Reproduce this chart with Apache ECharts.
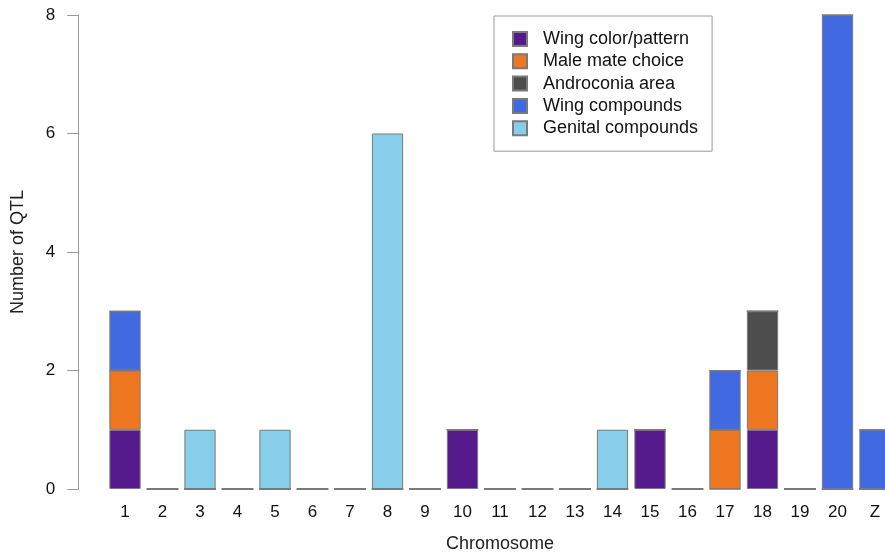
<!DOCTYPE html>
<html>
<head>
<meta charset="utf-8">
<script src="https://cdn.jsdelivr.net/npm/echarts@6/dist/echarts.min.js"></script>
<style>html,body{margin:0;padding:0;background:#fff;}#c{width:885px;height:554px;}</style>
</head>
<body>
<div id="c"></div>
<script>
const categories = ['1','2','3','4','5','6','7','8','9','10','11','12','13','14','15','16','17','18','19','20','Z'];
const wingColorPattern = [1,0,0,0,0,0,0,0,0,1,0,0,0,0,1,0,0,1,0,0,0];
const maleMateChoice   = [1,0,0,0,0,0,0,0,0,0,0,0,0,0,0,0,1,1,0,0,0];
const androconiaArea   = [0,0,0,0,0,0,0,0,0,0,0,0,0,0,0,0,0,1,0,0,0];
const wingCompounds    = [1,0,0,0,0,0,0,0,0,0,0,0,0,0,0,0,1,0,0,8,1];
const genitalCompounds = [0,0,1,0,1,0,0,6,0,0,0,0,0,1,0,0,0,0,0,0,0];
const yTicks = [0,2,4,6,8];

const seriesDefs = [
  ['Wing color/pattern', wingColorPattern, '#551A8B'],
  ['Male mate choice', maleMateChoice, '#EE7621'],
  ['Androconia area', androconiaArea, '#4D4D4D'],
  ['Wing compounds', wingCompounds, '#4169E1'],
  ['Genital compounds', genitalCompounds, '#87CEEB']
];

const font = 'Liberation Sans, Arial, Helvetica, sans-serif';
const chart = echarts.init(document.getElementById('c'), null, {renderer: 'canvas'});
chart.setOption({
  animation: false,
  textStyle: {fontFamily: font},
  grid: {left: 106.25, right: -8.75, top: 15, bottom: 65, containLabel: false, outerBoundsMode: 'none'},
  legend: {
    orient: 'vertical',
    left: 494, top: 16,
    padding: [14, 14, 14, 18],
    itemWidth: 14, itemHeight: 14,
    itemGap: 4.3,
    borderColor: '#999', borderWidth: 1,
    icon: 'rect',
    textStyle: {fontSize: 18, lineHeight: 18, color: '#111', fontFamily: font, padding: [0,0,0,11]},
    data: seriesDefs.map(s => s[0])
  },
  xAxis: {
    type: 'category',
    data: categories,
    axisLine: {show: false},
    axisTick: {show: false},
    axisLabel: {fontSize: 17, color: '#111', margin: 15, interval: 0, fontFamily: font},
    name: 'Chromosome',
    nameLocation: 'middle',
    nameGap: 46,
    nameTextStyle: {fontSize: 18, color: '#222', fontFamily: font}
  },
  yAxis: {
    type: 'value',
    min: 0, max: 8, interval: 2,
    offset: 28,
    axisLine: {show: true, lineStyle: {color: '#999', width: 1}},
    axisTick: {show: true, length: 11, lineStyle: {color: '#999'}},
    axisLabel: {fontSize: 17, color: '#111', margin: 23, fontFamily: font,
      formatter: v => yTicks.includes(v) ? String(v) : ''},
    splitLine: {show: false},
    name: 'Number of QTL',
    nameLocation: 'middle',
    nameGap: 51,
    nameRotate: 90,
    nameTextStyle: {fontSize: 18, color: '#222', fontFamily: font}
  },
  series: seriesDefs.map(([name, data, color]) => ({
    name, type: 'bar', stack: 'qtl', data,
    barWidth: 31.25,
    itemStyle: {color, borderColor: '#7a7a7a', borderWidth: 1},
    emphasis: {disabled: true}
  }))
});
</script>
</body>
</html>
